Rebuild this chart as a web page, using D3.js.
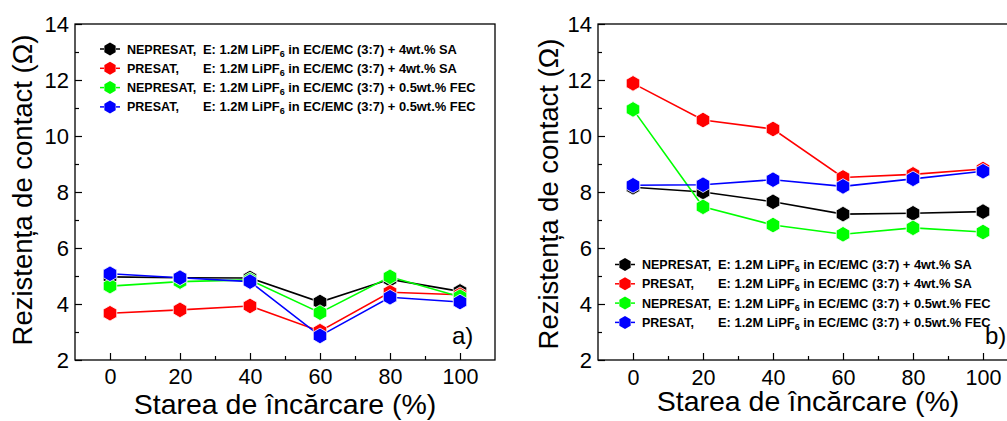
<!DOCTYPE html>
<html>
<head>
<meta charset="utf-8">
<script src="https://cdn.jsdelivr.net/npm/d3@7"></script>
<style>
  html, body { margin: 0; padding: 0; background: #fff; }
  svg { display: block; }
  text { font-family: "Liberation Sans", Arial, sans-serif; }
</style>
</head>
<body>
<svg id="chart" width="1007" height="421"></svg>
<script>
// State of charge (%)
const soc = [0, 20, 40, 60, 80, 100];

// Contact resistance (Ω), panel a)
const aNepresatSA  = [4.97, 4.94, 4.93, 4.07, 4.88, 4.45];
const aPresatSA    = [3.67, 3.79, 3.93, 3.03, 4.42, 4.33];
const aNepresatFEC = [4.64, 4.80, 4.86, 3.69, 4.97, 4.26];
const aPresatFEC   = [5.08, 4.94, 4.80, 2.86, 4.24, 4.07];

// Contact resistance (Ω), panel b)
const bNepresatSA  = [8.17, 8.00, 7.65, 7.21, 7.24, 7.30];
const bPresatSA    = [11.88, 10.57, 10.25, 8.52, 8.63, 8.82];
const bNepresatFEC = [10.95, 7.47, 6.82, 6.49, 6.72, 6.57];
const bPresatFEC   = [8.24, 8.26, 8.44, 8.20, 8.47, 8.74];

const seriesNames = ["NEPRESAT,", "PRESAT,", "NEPRESAT,", "PRESAT,"];
const seriesElectrolyte = [
  "4wt.% SA", "4wt.% SA", "0.5wt.% FEC", "0.5wt.% FEC"
];
const seriesColors = ["#000000", "#ff0000", "#00ff00", "#0000ff"];

const yTicks = [2, 4, 6, 8, 10, 12, 14];
const xTicks = [0, 20, 40, 60, 80, 100];

const svg = d3.select("#chart");

function hexPath(r) {
  const pts = d3.range(6).map(i => {
    const a = Math.PI / 2 + i * Math.PI / 3;
    return [r * Math.cos(a), r * Math.sin(a)];
  });
  return "M" + pts.map(p => p[0].toFixed(2) + "," + p[1].toFixed(2)).join("L") + "Z";
}

function drawPanel(cfg) {
  const g = svg.append("g");
  const x = d3.scaleLinear().domain([-10, 110]).range([cfg.left, cfg.left + 420]);
  const y = d3.scaleLinear().domain([2, 14]).range([360, 24]);

  // frame
  g.append("rect")
    .attr("x", cfg.left).attr("y", 24)
    .attr("width", 420).attr("height", 336)
    .attr("fill", "none").attr("stroke", "#000").attr("stroke-width", 1.3);

  // x axis: major + minor ticks pointing inward
  const xAxis = d3.axisBottom(x).tickValues(xTicks).tickSizeInner(-7).tickSizeOuter(0).tickPadding(cfg.xPad);
  const xg = g.append("g").attr("transform", `translate(0,360)`).call(xAxis);
  xg.select(".domain").remove();
  xg.selectAll("line").attr("stroke-width", 1.2);
  xg.selectAll("text").attr("font-size", 21.5).attr("fill", "#000")
    .attr("font-family", "Liberation Sans, Arial, sans-serif");
  const xMinor = d3.axisBottom(x).tickValues(d3.range(10, 100, 20)).tickSizeInner(-4).tickSizeOuter(0).tickFormat("");
  const xmg = g.append("g").attr("transform", `translate(0,360)`).call(xMinor);
  xmg.select(".domain").remove();
  xmg.selectAll("line").attr("stroke-width", 1.2);

  // y axis
  const yAxis = d3.axisLeft(y).tickValues(yTicks).tickSizeInner(-7).tickSizeOuter(0).tickPadding(6);
  const yg = g.append("g").attr("transform", `translate(${cfg.left},0)`).call(yAxis);
  yg.select(".domain").remove();
  yg.selectAll("line").attr("stroke-width", 1.2);
  yg.selectAll("text").attr("font-size", 22).attr("fill", "#000")
    .attr("font-family", "Liberation Sans, Arial, sans-serif");
  const yMinor = d3.axisLeft(y).tickValues(d3.range(3, 14, 2)).tickSizeInner(-4).tickSizeOuter(0).tickFormat("");
  const ymg = g.append("g").attr("transform", `translate(${cfg.left},0)`).call(yMinor);
  ymg.select(".domain").remove();
  ymg.selectAll("line").attr("stroke-width", 1.2);

  // axis titles
  g.append("text")
    .attr("x", cfg.left + 210).attr("y", cfg.xTitleY)
    .attr("text-anchor", "middle").attr("font-size", 28.5)
    .text("Starea de încărcare (%)");
  g.append("text")
    .attr("transform", `translate(${cfg.yTitleX},${cfg.yTitleC}) rotate(-90)`)
    .attr("text-anchor", "middle").attr("font-size", 27.5)
    .text("Rezistența de contact (Ω)");

  // panel tag
  g.append("text")
    .attr("x", cfg.tagX).attr("y", 344)
    .attr("font-size", 24).text(cfg.tag);

  // series
  const line = d3.line().x((d, i) => x(soc[i])).y(d => y(d));
  cfg.data.forEach((vals, k) => {
    g.append("path").datum(vals)
      .attr("d", line).attr("fill", "none")
      .attr("stroke", seriesColors[k]).attr("stroke-width", 1.6);
  });
  cfg.data.forEach((vals, k) => {
    g.selectAll(null).data(vals).enter().append("path")
      .attr("d", hexPath(7.8))
      .attr("transform", (d, i) => `translate(${x(soc[i])},${y(d)})`)
      .attr("fill", seriesColors[k])
      .attr("stroke", "#fff").attr("stroke-width", 0.8);
  });

  // legend
  const lg = g.append("g");
  cfg.data.forEach((vals, k) => {
    const ly = cfg.legY + k * 19.3;
    const cx = cfg.legX;
    lg.append("line").attr("x1", cx - 10).attr("x2", cx - 6).attr("y1", ly).attr("y2", ly)
      .attr("stroke", seriesColors[k]).attr("stroke-width", 1.5);
    lg.append("line").attr("x1", cx + 6).attr("x2", cx + 10).attr("y1", ly).attr("y2", ly)
      .attr("stroke", seriesColors[k]).attr("stroke-width", 1.5);
    lg.append("path").attr("d", hexPath(6.5))
      .attr("transform", `translate(${cx},${ly})`)
      .attr("fill", seriesColors[k]);
    lg.append("text").attr("x", cx + 17).attr("y", ly + 4.5)
      .attr("font-size", 12.5).attr("font-weight", "bold").text(seriesNames[k]);
    const t2 = lg.append("text").attr("x", cx + 93).attr("y", ly + 4.5)
      .attr("font-size", 12.9).attr("font-weight", "bold");
    t2.append("tspan").text("E: 1.2M LiPF");
    t2.append("tspan").attr("font-size", 9).attr("dy", 3).text("6");
    t2.append("tspan").attr("dy", -3).text(" in EC/EMC (3:7) + " + seriesElectrolyte[k]);
  });
}

drawPanel({
  left: 75, tag: "a)", tagX: 452, xPad: 9, xTitleY: 414, yTitleX: 32, yTitleC: 190,
  legX: 110, legY: 49,
  data: [aNepresatSA, aPresatSA, aNepresatFEC, aPresatFEC]
});
drawPanel({
  left: 598, tag: "b)", tagX: 985, xPad: 10, xTitleY: 411, yTitleX: 558, yTitleC: 194,
  legX: 625, legY: 264.5,
  data: [bNepresatSA, bPresatSA, bNepresatFEC, bPresatFEC]
});
</script>
</body>
</html>
